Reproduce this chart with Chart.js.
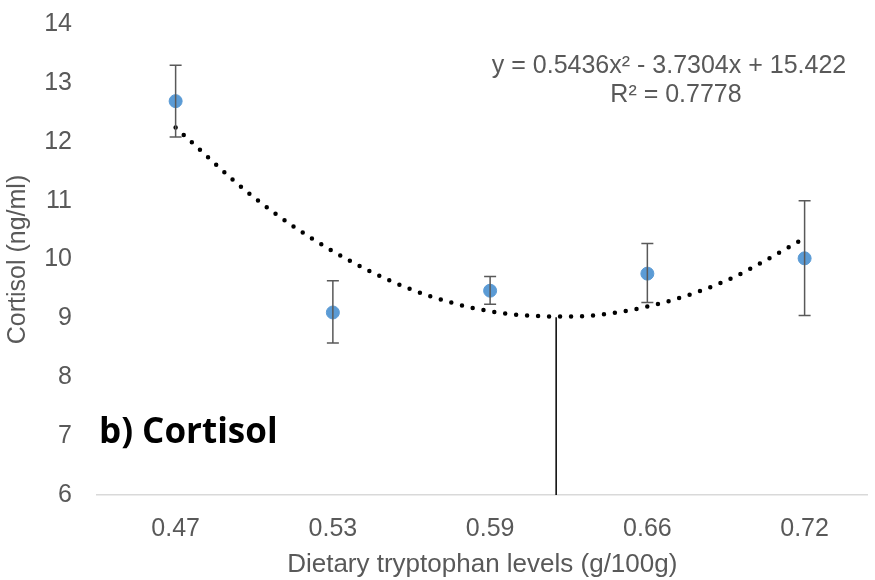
<!DOCTYPE html>
<html>
<head>
<meta charset="utf-8">
<script src="https://cdn.jsdelivr.net/npm/chart.js@4/dist/chart.umd.min.js"></script>
<style>
  body { margin: 0; background: #fff; overflow: hidden; }
  #wrap { width: 875px; height: 580px; }
  canvas { display: block; }
</style>
</head>
<body>
<div id="wrap"><canvas id="cortisolChart" width="875" height="580"></canvas></div>
<script>
// categories (tryptophan levels), placed at positions 1..5 on the x axis
const LEVELS = ["0.47", "0.53", "0.59", "0.66", "0.72"];
const MEANS = [12.69, 9.10, 9.47, 9.76, 10.02];
const ERR_LOW = [12.08, 8.58, 9.24, 9.27, 9.05];
const ERR_HIGH = [13.30, 9.64, 9.71, 10.27, 11.00];

// dotted polynomial trendline
const TREND_X = [1, 1.5, 2, 2.5, 3, 3.5, 4, 4.5, 5];
const TREND_Y = [12.24, 11.05, 10.14, 9.49, 9.12, 9.03, 9.20, 9.64, 10.36];

// vertical marker at the curve minimum
const MIN_X = [3.42, 3.42];
const MIN_Y = [6, 9.02];

const Y_TICKS = [6, 7, 8, 9, 10, 11, 12, 13, 14];
const EQUATION = "y = 0.5436x² - 3.7304x + 15.422";
const R2 = "R² = 0.7778";

const GREY = "#595959";
const FONT = "'Liberation Sans', Arial, sans-serif";

const noPad = s => { s.paddingLeft = 0; s.paddingRight = 0; s.paddingTop = 0; s.paddingBottom = 0; };

const errorBars = {
    id: "errorBars",
    afterDatasetsDraw(chart) {
        const { ctx, scales: { x, y } } = chart;
        ctx.save();
        ctx.strokeStyle = GREY;
        ctx.lineWidth = 1.5;
        MEANS.forEach((m, i) => {
            const px = x.getPixelForValue(i + 1);
            const top = y.getPixelForValue(ERR_HIGH[i]);
            const bot = y.getPixelForValue(ERR_LOW[i]);
            ctx.beginPath();
            ctx.moveTo(px, top); ctx.lineTo(px, bot);
            ctx.moveTo(px - 6, top); ctx.lineTo(px + 6, top);
            ctx.moveTo(px - 6, bot); ctx.lineTo(px + 6, bot);
            ctx.stroke();
        });
        ctx.restore();
    }
};

const labels = {
    id: "labels",
    afterDraw(chart) {
        const ctx = chart.ctx;
        ctx.save();
        ctx.fillStyle = GREY;
        ctx.font = "25px " + FONT;
        ctx.textAlign = "center";
        ctx.textBaseline = "middle";
        ctx.fillText(EQUATION, 669, 66);
        ctx.fillText(R2, 676, 95);
        ctx.fillStyle = "#000";
        ctx.font = "bold 35px 'Open Sans', sans-serif";
        ctx.textAlign = "left";
        ctx.fillText("b) Cortisol", 99, 433);
        ctx.restore();
    }
};

const context = document.getElementById("cortisolChart").getContext("2d");
const chart = new Chart(context, {
    type: "scatter",
    data: {
        datasets: [
            {
                type: "line",
                data: MIN_X.map((v, i) => ({ x: v, y: MIN_Y[i] })),
                borderColor: "#000",
                borderWidth: 1.5,
                pointRadius: 0,
                order: 3
            },
            {
                type: "line",
                data: TREND_X.map((v, i) => ({ x: v, y: TREND_Y[i] })),
                borderColor: "#000",
                borderWidth: 4.5,
                borderDash: [0, 11],
                borderCapStyle: "round",
                cubicInterpolationMode: "monotone",
                pointRadius: 0,
                order: 2
            },
            {
                data: MEANS.map((v, i) => ({ x: i + 1, y: v })),
                backgroundColor: "#5b9bd5",
                borderColor: "#5b9bd5",
                pointRadius: 6.5,
                order: 1
            }
        ]
    },
    options: {
        responsive: false,
        animation: false,
        layout: { padding: { top: 24, right: 0, left: 0, bottom: 0 } },
        plugins: { legend: { display: false }, tooltip: { enabled: false } },
        scales: {
            x: {
                type: "linear",
                min: 0.5,
                max: 5.40,
                afterBuildTicks: s => { s.ticks = LEVELS.map((_, i) => ({ value: i + 1 })); },
                afterFit: s => { s.height = 85; noPad(s); },
                ticks: {
                    callback: v => LEVELS[v - 1],
                    color: GREY,
                    font: { size: 25, family: FONT },
                    padding: 11
                },
                grid: { display: false },
                border: { display: true, color: "#d9d9d9", width: 1.5 },
                title: {
                    display: true,
                    text: "Dietary tryptophan levels (g/100g)",
                    color: GREY,
                    font: { size: 26, family: FONT },
                    padding: { top: 0, bottom: 0 }
                }
            },
            y: {
                min: 6,
                max: 14,
                afterBuildTicks: s => { s.ticks = Y_TICKS.map(v => ({ value: v })); },
                afterFit: s => { s.width = 97; noPad(s); },
                ticks: {
                    color: GREY,
                    font: { size: 25, family: FONT },
                    padding: 17
                },
                grid: { display: false },
                border: { display: false },
                title: {
                    display: true,
                    text: "Cortisol (ng/ml)",
                    color: GREY,
                    font: { size: 25, family: FONT },
                    padding: { top: 3, bottom: 0 }
                }
            }
        }
    },
    plugins: [errorBars, labels]
});
</script>
</body>
</html>
